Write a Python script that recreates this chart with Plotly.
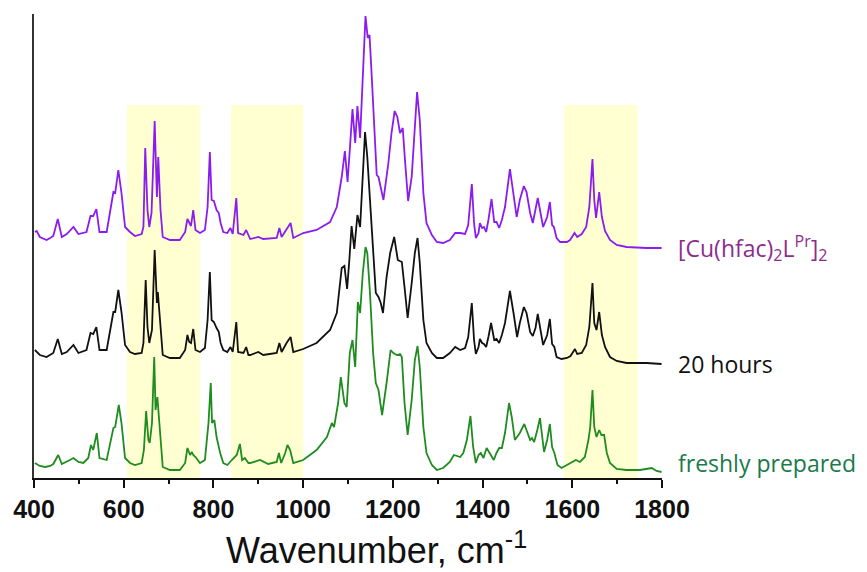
import plotly.graph_objects as go

# ---- data (wavenumber in cm^-1, stacked absorbance in arbitrary units) ----
purple_x = [402, 406, 413, 428, 436, 443, 453, 462, 473, 488, 499, 517, 526, 532, 539, 546, 562, 577, 581, 588,
            595, 603, 614, 625, 640, 644, 648, 653, 657, 662, 669, 674, 677, 682, 687, 703, 725, 737, 742, 746,
            750, 755, 760, 770, 781, 787, 792, 796, 801, 807, 812, 816, 822, 831, 838, 843, 851, 855, 867, 873,
            878, 882, 900, 911, 941, 947, 952, 963, 972, 978, 1000, 1030, 1060, 1075, 1086, 1093, 1099, 1104, 1110, 1116,
            1121, 1127, 1133, 1139, 1144, 1148, 1153, 1158, 1164, 1168, 1173, 1179, 1190, 1197, 1204, 1210, 1216, 1222, 1227, 1234,
            1242, 1249, 1254, 1260, 1268, 1275, 1287, 1298, 1312, 1327, 1339, 1350, 1361, 1368, 1376, 1381, 1385, 1391, 1394, 1399,
            1403, 1408, 1413, 1420, 1426, 1431, 1437, 1443, 1450, 1461, 1469, 1476, 1483, 1492, 1498, 1506, 1512, 1517, 1523, 1528,
            1535, 1544, 1550, 1555, 1559, 1565, 1573, 1588, 1595, 1605, 1611, 1621, 1631, 1638, 1645, 1649, 1653, 1660, 1666, 1673,
            1684, 1699, 1721, 1766, 1799]
purple_y = [246, 247, 241, 238, 240, 242, 259, 241, 244, 251, 244, 246, 262, 262, 269, 246, 246, 286, 285, 308,
            285, 251, 246, 242, 244, 251, 330, 268, 251, 265, 357, 281, 321, 268, 241, 238, 238, 246, 259, 255,
            252, 268, 248, 245, 248, 271, 326, 278, 277, 268, 265, 255, 246, 245, 250, 244, 280, 245, 243, 248,
            242, 239, 241, 239, 240, 250, 241, 248, 255, 240, 245, 248, 256, 271, 301, 327, 296, 328, 369, 335,
            372, 340, 401, 462, 440, 443, 401, 351, 303, 301, 291, 278, 315, 345, 367, 361, 345, 350, 318, 277,
            301, 358, 386, 358, 285, 255, 243, 236, 235, 238, 245, 245, 244, 253, 294, 255, 240, 245, 255, 250,
            251, 246, 258, 279, 256, 256, 250, 258, 271, 309, 281, 261, 278, 292, 286, 265, 255, 265, 280, 268,
            251, 261, 276, 253, 251, 240, 236, 236, 238, 245, 241, 244, 251, 271, 319, 278, 260, 286, 261, 247,
            238, 233, 231, 230, 230]

black_x = [402, 413, 428, 443, 453, 462, 473, 488, 499, 517, 526, 532, 539, 546, 562, 577, 581, 588, 595, 603,
           614, 625, 640, 644, 649, 653, 657, 663, 669, 674, 676, 682, 687, 703, 725, 737, 742, 746, 750, 755,
           760, 770, 781, 787, 792, 796, 801, 807, 812, 816, 822, 831, 838, 843, 851, 855, 867, 873, 878, 882,
           900, 911, 941, 947, 952, 963, 972, 978, 1000, 1030, 1060, 1075, 1086, 1092, 1098, 1103, 1108, 1114, 1121, 1127,
           1133, 1138, 1143, 1149, 1156, 1162, 1168, 1173, 1178, 1186, 1194, 1203, 1211, 1220, 1226, 1233, 1242, 1249, 1255, 1260,
           1268, 1275, 1287, 1298, 1312, 1327, 1339, 1350, 1361, 1368, 1376, 1381, 1385, 1391, 1394, 1399, 1403, 1408, 1413, 1419,
           1426, 1431, 1437, 1443, 1450, 1461, 1469, 1477, 1483, 1492, 1498, 1506, 1512, 1518, 1523, 1528, 1535, 1544, 1550, 1555,
           1560, 1565, 1576, 1588, 1596, 1606, 1611, 1621, 1631, 1638, 1645, 1649, 1654, 1660, 1666, 1673, 1684, 1699, 1721, 1766,
           1799]
black_y = [128, 123, 121, 125, 139, 124, 126, 133, 125, 128, 145, 144, 151, 128, 128, 166, 166, 188, 166, 133,
           126, 124, 125, 135, 198, 151, 135, 148, 228, 175, 186, 148, 123, 120, 120, 128, 143, 136, 135, 149,
           128, 126, 130, 158, 206, 158, 156, 150, 146, 135, 128, 126, 131, 126, 156, 126, 125, 131, 123, 123,
           126, 123, 125, 135, 126, 135, 141, 126, 129, 135, 148, 165, 210, 212, 189, 218, 252, 229, 263, 251,
           311, 346, 321, 281, 225, 185, 181, 175, 165, 201, 225, 241, 218, 216, 191, 160, 195, 225, 240, 215,
           158, 135, 125, 120, 120, 125, 131, 128, 130, 141, 175, 138, 124, 131, 139, 135, 134, 131, 141, 155,
           138, 139, 135, 143, 155, 187, 165, 141, 155, 171, 165, 146, 142, 150, 164, 151, 133, 143, 159, 134,
           131, 121, 119, 120, 122, 129, 124, 125, 133, 151, 195, 155, 148, 166, 143, 131, 121, 117, 115, 115,
           114]

green_x = [402, 413, 425, 436, 443, 454, 462, 473, 480, 488, 499, 510, 521, 527, 532, 540, 546, 562, 577, 581,
           589, 595, 603, 614, 625, 640, 645, 650, 655, 658, 663, 668, 671, 675, 681, 687, 703, 725, 737, 742,
           748, 752, 755, 760, 770, 781, 789, 794, 797, 802, 807, 815, 822, 831, 841, 852, 859, 864, 870, 878,
           882, 904, 922, 941, 946, 951, 960, 965, 971, 978, 1000, 1030, 1053, 1064, 1069, 1078, 1084, 1092, 1097, 1104,
           1110, 1116, 1122, 1127, 1133, 1139, 1143, 1149, 1156, 1162, 1168, 1176, 1186, 1195, 1201, 1209, 1216, 1220, 1226, 1233,
           1242, 1249, 1255, 1260, 1268, 1275, 1287, 1298, 1312, 1327, 1336, 1350, 1357, 1365, 1373, 1379, 1385, 1391, 1396, 1402,
           1409, 1415, 1420, 1425, 1431, 1437, 1443, 1450, 1459, 1465, 1472, 1483, 1493, 1501, 1506, 1510, 1515, 1522, 1528, 1532,
           1537, 1544, 1550, 1555, 1560, 1567, 1576, 1588, 1599, 1608, 1617, 1628, 1636, 1640, 1645, 1649, 1654, 1660, 1665, 1671,
           1677, 1684, 1699, 1721, 1751, 1777, 1788, 1799]
green_y = [15, 12, 11, 12, 14, 23, 14, 16, 18, 20, 16, 15, 20, 33, 28, 45, 20, 18, 50, 51,
           73, 55, 20, 15, 13, 15, 28, 67, 38, 35, 55, 121, 68, 81, 41, 11, 8, 8, 15, 30,
           23, 26, 23, 21, 15, 18, 55, 95, 55, 58, 41, 25, 15, 13, 18, 23, 34, 18, 20, 15,
           15, 18, 14, 16, 25, 15, 25, 33, 28, 15, 18, 28, 41, 55, 51, 75, 101, 75, 71, 125,
           138, 111, 176, 165, 205, 231, 225, 185, 125, 95, 88, 63, 95, 128, 125, 123, 124, 121, 75, 43,
           78, 118, 132, 111, 51, 25, 13, 8, 10, 16, 23, 21, 25, 38, 62, 31, 15, 23, 25, 20,
           30, 25, 21, 18, 25, 30, 30, 45, 75, 61, 38, 45, 54, 45, 38, 40, 36, 48, 60, 45,
           26, 38, 54, 31, 25, 13, 10, 13, 16, 18, 16, 21, 38, 51, 88, 51, 41, 48, 43, 43,
           25, 15, 9, 8, 8, 10, 7, 6]

# highlighted wavenumber windows
band_starts = [607, 839, 1581]
band_ends = [770, 1000, 1746]
band_top = 373

trace_names = ["[Cu(hfac)<sub>2</sub>L<sup>Pr</sup>]<sub>2</sub>", "20 hours", "freshly prepared"]
line_colors = ["#8B1CF0", "#111111", "#1E8C1E"]
label_colors = ["#8E2C8E", "#111111", "#1A7A4A"]
label_y = [248, 364, 463]

x_ticks = [400, 600, 800, 1000, 1200, 1400, 1600, 1800]

fig = go.Figure()
for xs, ys, name, col in zip([purple_x, black_x, green_x], [purple_y, black_y, green_y], trace_names, line_colors):
    fig.add_trace(go.Scatter(x=xs, y=ys, mode="lines", name=name,
                             line=dict(color=col, width=1.8), showlegend=False))

for x0, x1 in zip(band_starts, band_ends):
    fig.add_shape(type="rect", xref="x", yref="y", x0=x0, x1=x1, y0=0, y1=band_top,
                  fillcolor="#FFFFD2", line=dict(width=0), layer="below")

for name, col, yv in zip(trace_names, label_colors, label_y):
    fig.add_annotation(x=1800, xref="x", xshift=14, y=478 - yv, yref="y",
                       text=name, showarrow=False, xanchor="left", yanchor="middle",
                       font=dict(family="Open Sans, Noto Sans, sans-serif", size=23, color=col))

fig.add_annotation(x=0.545, xref="paper", y=-0.151, yref="paper",
                   text="Wavenumber, cm<sup>-1</sup>", showarrow=False,
                   xanchor="center", yanchor="middle",
                   font=dict(family="Liberation Sans, Arial, sans-serif", size=36, color="#111111"))

fig.update_layout(
    width=867, height=572,
    margin=dict(l=34, r=205, t=14, b=94),
    paper_bgcolor="white", plot_bgcolor="white",
    showlegend=False,
)
fig.update_xaxes(range=[400, 1800], tickvals=x_ticks, ticktext=[str(v) for v in x_ticks],
                 showgrid=False, zeroline=False, showline=True, linecolor="#111111", linewidth=2,
                 ticks="outside", ticklen=8, tickwidth=2, tickcolor="#111111",
                 tickfont=dict(family="Liberation Sans, Arial, sans-serif", size=25, color="#111111", weight="bold"),
                 minor=dict(dtick=100, tick0=400, ticks="outside", ticklen=4, tickwidth=1.5, tickcolor="#111111"))
fig.update_yaxes(range=[0, 464], showgrid=False, zeroline=False, showline=True, linecolor="#333333",
                 linewidth=2, showticklabels=False, ticks="")

fig.write_html("out.html")
